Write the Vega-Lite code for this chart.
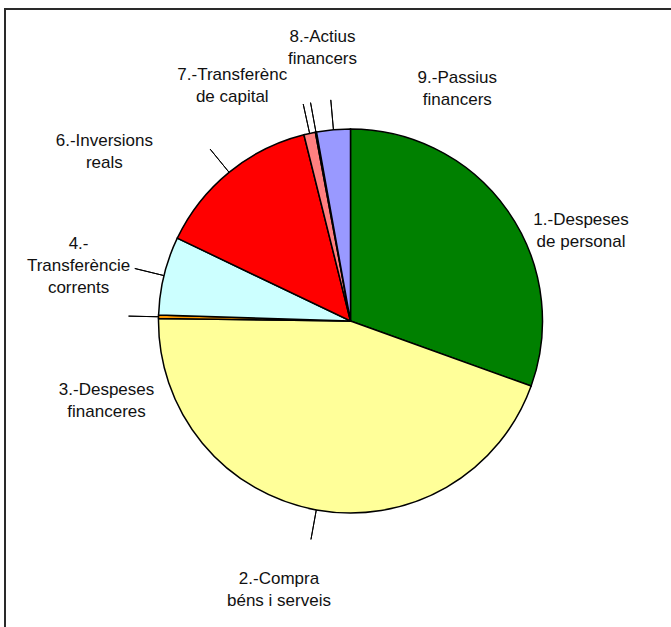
{
  "$schema": "https://vega.github.io/schema/vega-lite/v6.json",
  "width": 691,
  "height": 624,
  "autosize": {"type": "none"},
  "padding": {"left": 5, "top": 9, "right": -25, "bottom": -6},
  "background": "#ffffff",
  "config": {
    "view": {"stroke": null},
    "text": {"font": "Liberation Sans", "fontSize": 17, "fill": "#111111", "lineBreak": "\n", "lineHeight": 22, "align": "center", "baseline": "middle"}
  },
  "datasets": {
    "slices": [
      {"ord": 1, "num": "1", "label": "1.-Despeses\nde personal", "value": 30.5},
      {"ord": 2, "num": "2", "label": "2.-Compra\nbéns i serveis", "value": 44.7},
      {"ord": 3, "num": "3", "label": "3.-Despeses\nfinanceres", "value": 0.3},
      {"ord": 4, "num": "4", "label": "4.-\nTransferèncie\ncorrents", "value": 6.6},
      {"ord": 5, "num": "6", "label": "6.-Inversions\nreals", "value": 14.0},
      {"ord": 6, "num": "7", "label": "7.-Transferènc\nde capital", "value": 0.97},
      {"ord": 7, "num": "8", "label": "8.-Actius\nfinancers", "value": 0.1},
      {"ord": 8, "num": "9", "label": "9.-Passius\nfinancers", "value": 2.83}
    ],
    "frame": [{"name": "frame"}]
  },
  "data": {"name": "slices"},
  "layer": [
    {
      "data": {"name": "frame"},
      "mark": {"type": "rect", "fill": null, "stroke": "#2a2a2a", "strokeWidth": 2},
      "encoding": {
        "x": {"value": 0},
        "x2": {"value": "width"},
        "y": {"value": 0},
        "y2": {"value": "height"}
      }
    },
    {
      "mark": {"type": "arc", "outerRadius": 192, "stroke": "#000000", "strokeWidth": 1.5},
      "encoding": {
        "theta": {"field": "value", "type": "quantitative", "stack": true},
        "order": {"field": "ord", "type": "quantitative"},
        "color": {
          "field": "num",
          "type": "nominal",
          "scale": {
            "domain": ["1", "2", "3", "4", "6", "7", "8", "9"],
            "range": ["#008000", "#FFFF99", "#FF9900", "#CCFFFF", "#FF0000", "#FF8080", "#FFFFFF", "#9999FF"]
          },
          "legend": null
        }
      }
    },
    {
      "mark": {"type": "arc", "innerRadius": 192, "outerRadius": 222, "padAngle": 3, "fill": null, "stroke": "#000000", "strokeWidth": 1},
      "encoding": {
        "theta": {"field": "value", "type": "quantitative", "stack": true},
        "order": {"field": "ord", "type": "quantitative"},
        "strokeOpacity": {"condition": {"test": "datum.ord == 1", "value": 0}, "value": 1}
      }
    },
    {
      "mark": {"type": "text", "dx": 26, "dy": 43},
      "encoding": {"theta": {"field": "value", "type": "quantitative", "stack": true}, "order": {"field": "ord", "type": "quantitative"}, "radius": {"value": 250}, "text": {"condition": {"test": "datum.ord == 1", "field": "label"}, "value": ""}}
    },
    {
      "mark": {"type": "text", "dx": -27, "dy": 12},
      "encoding": {"theta": {"field": "value", "type": "quantitative", "stack": true}, "order": {"field": "ord", "type": "quantitative"}, "radius": {"value": 250}, "text": {"condition": {"test": "datum.ord == 2", "field": "label"}, "value": ""}}
    },
    {
      "mark": {"type": "text", "dx": 6, "dy": 74},
      "encoding": {"theta": {"field": "value", "type": "quantitative", "stack": true}, "order": {"field": "ord", "type": "quantitative"}, "radius": {"value": 250}, "text": {"condition": {"test": "datum.ord == 3", "field": "label"}, "value": ""}}
    },
    {
      "mark": {"type": "text", "dx": -29, "dy": -18},
      "encoding": {"theta": {"field": "value", "type": "quantitative", "stack": true}, "order": {"field": "ord", "type": "quantitative"}, "radius": {"value": 250}, "text": {"condition": {"test": "datum.ord == 4", "field": "label"}, "value": ""}}
    },
    {
      "mark": {"type": "text", "dx": -88, "dy": 14},
      "encoding": {"theta": {"field": "value", "type": "quantitative", "stack": true}, "order": {"field": "ord", "type": "quantitative"}, "radius": {"value": 250}, "text": {"condition": {"test": "datum.ord == 5", "field": "label"}, "value": ""}}
    },
    {
      "mark": {"type": "text", "dx": -65, "dy": -2},
      "encoding": {"theta": {"field": "value", "type": "quantitative", "stack": true}, "order": {"field": "ord", "type": "quantitative"}, "radius": {"value": 250}, "text": {"condition": {"test": "datum.ord == 6", "field": "label"}, "value": ""}}
    },
    {
      "mark": {"type": "text", "dx": 17, "dy": -38},
      "encoding": {"theta": {"field": "value", "type": "quantitative", "stack": true}, "order": {"field": "ord", "type": "quantitative"}, "radius": {"value": 250}, "text": {"condition": {"test": "datum.ord == 7", "field": "label"}, "value": ""}}
    },
    {
      "mark": {"type": "text", "dx": 129, "dy": 6},
      "encoding": {"theta": {"field": "value", "type": "quantitative", "stack": true}, "order": {"field": "ord", "type": "quantitative"}, "radius": {"value": 250}, "text": {"condition": {"test": "datum.ord == 8", "field": "label"}, "value": ""}}
    }
  ]
}
